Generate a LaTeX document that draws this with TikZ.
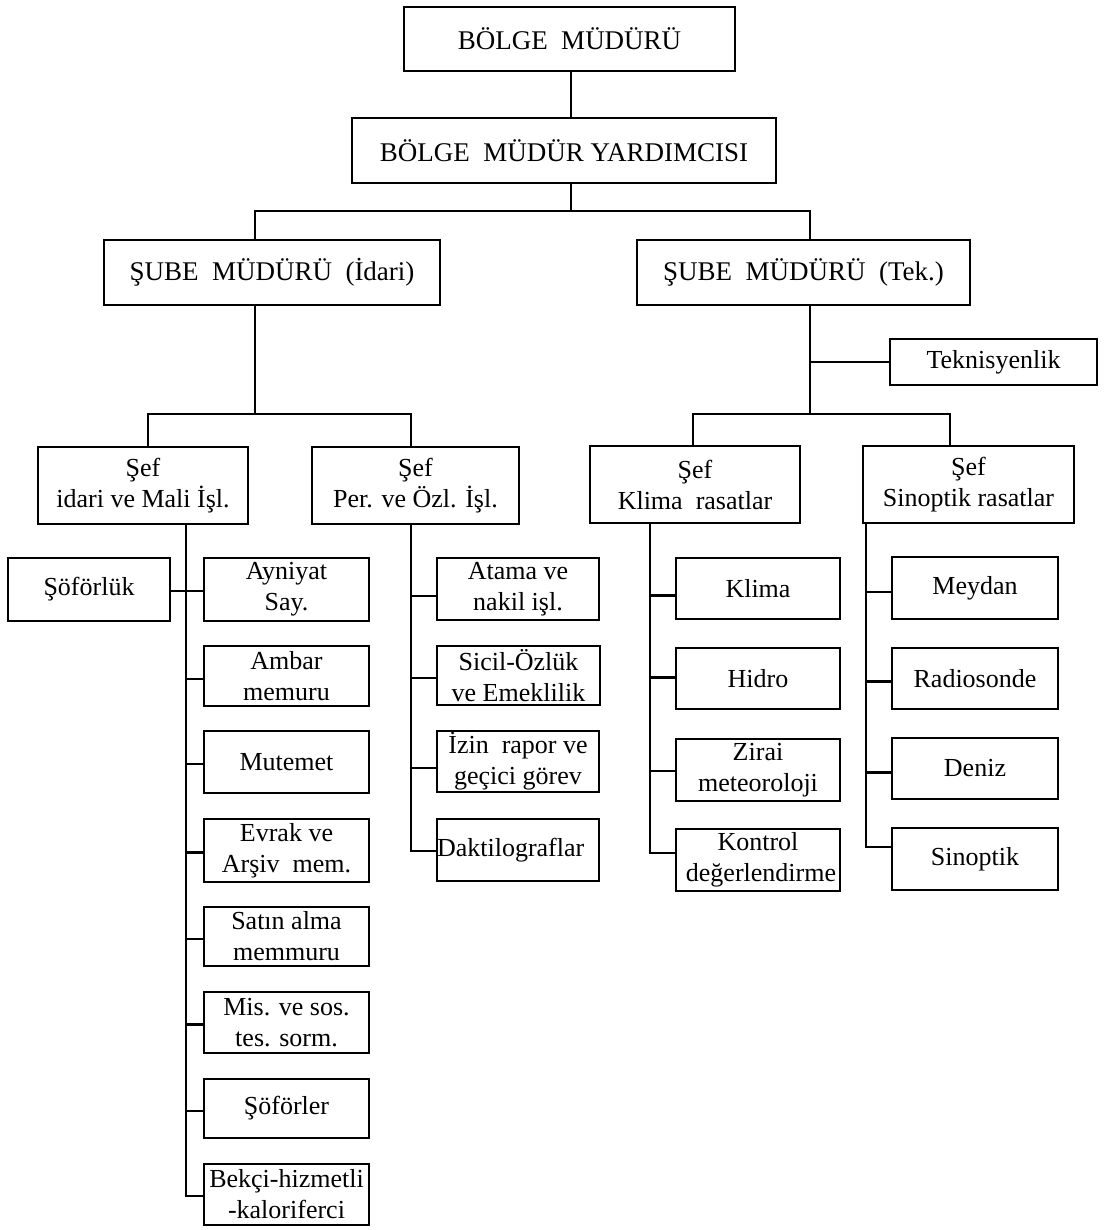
\documentclass[tikz,border=0pt]{standalone}
\usepackage{fontspec}
\setmainfont{Liberation Serif}
\usetikzlibrary{calc}
% \orgbox[style]{name}{x1}{y1}{x2}{y2}{text}: a framed box given by its corners
\newcommand\orgbox[7][]{%
  \node[obox,#1,minimum width={(#5)-(#3)},minimum height={(#6)-(#4)}]
    (#2) at ({((#3)+(#5))/2},{((#4)+(#6))/2}) {#7};}
\begin{document}
\begin{tikzpicture}[x=1pt,y=-1pt,
  obox/.style={draw,line width=2.4pt,inner sep=0pt,align=center,
    font=\fontsize{26}{31}\selectfont},
  head/.style={font=\fontsize{27}{32}\selectfont},
  conn/.style={line width=2.2pt}]
\useasboundingbox[fill=white] (0,0) rectangle (1106,1230);

% management levels
\orgbox[head]{bm}{404}{7}{735}{71}{BÖLGE~~MÜDÜRÜ}
\orgbox[head]{bmy}{352}{118}{776}{183}{BÖLGE~~MÜDÜR YARDIMCISI}
\orgbox[head]{sbi}{104}{240}{440}{305}{ŞUBE~~MÜDÜRÜ~~(İdari)}
\orgbox[head]{sbt}{637}{240}{970}{305}{ŞUBE~~MÜDÜRÜ~~(Tek.)}
\orgbox{tek}{890}{339}{1097}{385}{Teknisyenlik}

% section chiefs
\orgbox{sfi}{38}{447}{248}{524}{Şef\\idari ve Mali İşl.}
\orgbox{sfp}{312}{447}{519}{524}{Şef\\Per. ve Özl. İşl.}
\orgbox{sfk}{590}{446}{800}{523}{Şef\\Klima~~rasatlar}
\orgbox{sfs}{863}{446}{1074}{523}{Şef\\Sinoptik rasatlar}

% administrative and finance units
\orgbox{sof}{8}{558}{170}{621}{Şöförlük}
\orgbox{ayn}{204}{558}{369}{621}{Ayniyat\\Say.}
\orgbox{amb}{204}{646}{369}{706}{Ambar\\memuru}
\orgbox{mut}{204}{731}{369}{793}{Mutemet}
\orgbox{evr}{204}{819}{369}{882}{Evrak ve\\Arşiv~~mem.}
\orgbox{sat}{204}{907}{369}{966}{Satın alma\\memmuru}
\orgbox{mis}{204}{992}{369}{1053}{Mis. ve sos.\\tes. sorm.}
\orgbox{sfr}{204}{1079}{369}{1138}{Şöförler}
\orgbox{bek}{204}{1164}{369}{1225}{Bekçi-hizmetli\\-kaloriferci}

% personnel units
\orgbox{ata}{437}{558}{599}{620}{Atama ve\\nakil işl.}
\orgbox{sic}{437}{646}{600}{705}{Sicil-Özlük\\ve Emeklilik}
\orgbox{izn}{437}{731}{599}{792}{İzin~~rapor ve\\geçici görev}
\orgbox{dak}{437}{819}{599}{881}{\makebox[162pt][l]{Daktilograflar}}

% climate units
\orgbox{kli}{676}{558}{840}{619}{Klima}
\orgbox{hid}{676}{648}{840}{709}{Hidro}
\orgbox{zir}{676}{739}{840}{801}{Zirai\\meteoroloji}
\orgbox{kon}{676}{829}{840}{891}{Kontrol\\\hspace*{6pt}değerlendirme}

% synoptic units
\orgbox{mey}{892}{557}{1058}{619}{Meydan}
\orgbox{rad}{892}{648}{1058}{709}{Radiosonde}
\orgbox{den}{892}{738}{1058}{799}{Deniz}
\orgbox{sin}{892}{828}{1058}{890}{Sinoptik}

% trunk and bus positions
\coordinate (xT) at (571,0);
\coordinate (b1l) at (255,211);
\coordinate (b1r) at (810,211);
\coordinate (b2l) at (148,414);
\coordinate (b2r) at (411,414);
\coordinate (b3l) at (693,414);
\coordinate (b3r) at (950,414);
\coordinate (spI) at (186,0);
\coordinate (spK) at (650,0);
\coordinate (spS) at (866,0);

% upper levels
\draw[conn] (bm.south -| xT) -- (bmy.north -| xT);
\draw[conn] (bmy.south -| xT) -- (xT |- b1l);
\draw[conn] (b1l |- sbi.north) -- (b1l) -- (b1r) -- (b1r |- sbt.north);
\draw[conn] (sbi.south -| b1l) -- (b1l |- b2l);
\draw[conn] (b2l |- sfi.north) -- (b2l) -- (b2r) -- (b2r |- sfp.north);
\draw[conn] (sbt.south -| b1r) -- (b1r |- b3l);
\draw[conn] (tek.west -| b1r) -- (tek.west);
\draw[conn] (b3l |- sfk.north) -- (b3l) -- (b3r) -- (b3r |- sfs.north);

% attachment points of the unit boxes (shift downwards in px)
\foreach \n/\d in {ayn/1.5,amb/3,mut/2,evr/2,sat/2.5,mis/2,sfr/2.7,bek/1.5,
    ata/6.7,sic/2.5,izn/6.5,dak/1,
    kli/7,hid/-1,zir/1,kon/-7,
    mey/3.7,rad/3,den/4,sin/-11.7}
  \coordinate (c\n) at ($(\n.west)+(0,\d)$);

% administrative spine
\draw[conn] (sfi.south -| spI) -- (spI |- cbek) -- (cbek);
\draw[conn] (sof.east |- cayn) -- (cayn);
\foreach \n in {amb,mut,evr,sat,mis,sfr}
  \draw[conn] (spI |- c\n) -- (c\n);

% personnel spine
\draw[conn] (sfp.south -| b2r) -- (b2r |- cdak) -- (cdak);
\foreach \n in {ata,sic,izn}
  \draw[conn] (b2r |- c\n) -- (c\n);

% climate spine
\draw[conn] (sfk.south -| spK) -- (spK |- ckon) -- (ckon);
\foreach \n in {kli,hid,zir}
  \draw[conn] (spK |- c\n) -- (c\n);

% synoptic spine
\draw[conn] (sfs.south -| spS) -- (spS |- csin) -- (csin);
\foreach \n in {mey,rad,den}
  \draw[conn] (spS |- c\n) -- (c\n);
\end{tikzpicture}
\end{document}
